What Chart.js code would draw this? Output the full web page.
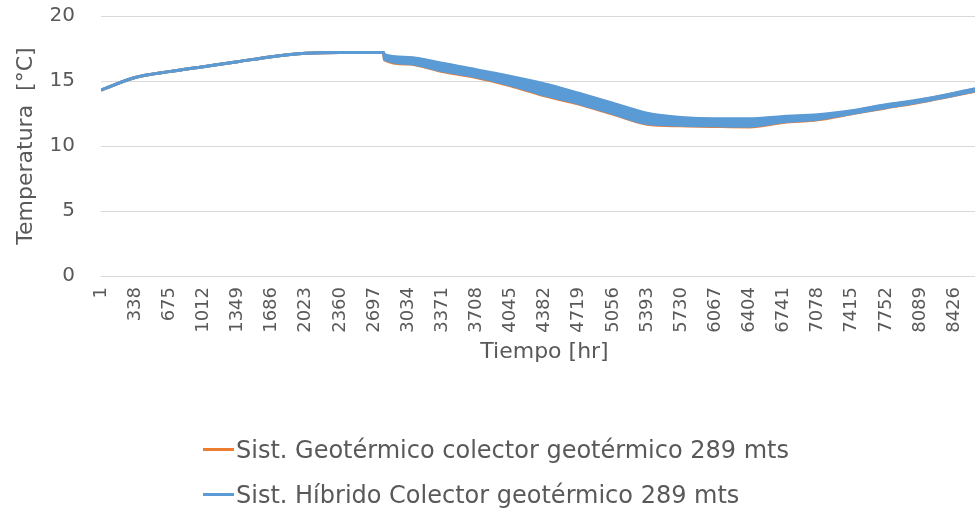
<!DOCTYPE html>
<html>
<head>
<meta charset="utf-8">
<script src="https://cdn.jsdelivr.net/npm/chart.js@4/dist/chart.umd.min.js"></script>
<style>
  html, body { margin: 0; padding: 0; background: #fff; overflow: hidden; }
  #wrap { position: relative; width: 996px; height: 514px; }
  #legend { position: absolute; left: 203px; top: 427px; font-family: 'DejaVu Sans', sans-serif; font-size: 24px; color: #595959; }
  .item { display: flex; align-items: center; height: 45px; white-space: nowrap; }
  .swatch { display: inline-block; width: 31px; height: 3px; margin-right: 2px; }
</style>
</head>
<body>
<div id="wrap">
  <canvas id="chart" width="996" height="514"></canvas>
  <div id="legend"></div>
</div>
<script>
// hour of the year for each reading
const hours = [1, 338, 675, 1012, 1349, 1686, 2023, 2360, 2697, 2790,
  2800, 3034, 3371, 3708, 4045, 4382, 4719, 5056, 5393, 5730,
  6067, 6404, 6741, 7078, 7415, 7752, 8089, 8426, 8610, 8760];

// geothermal system: daily upper / lower envelope (°C)
const geoHigh = [14.31, 15.27, 15.72, 16.10, 16.48, 16.87, 17.13, 17.20, 17.20, 17.20,
  16.97, 16.76, 16.32, 15.81, 15.30, 14.73, 14.01, 13.24, 12.47, 12.14,
  12.04, 12.04, 12.22, 12.35, 12.68, 13.14, 13.52, 14.03, 14.34, 14.52];
const geoLow = [14.31, 15.27, 15.72, 16.10, 16.48, 16.87, 17.13, 17.20, 17.20, 17.20,
  16.63, 16.30, 15.73, 15.27, 14.63, 13.86, 13.22, 12.45, 11.68, 11.55,
  11.50, 11.47, 11.81, 12.01, 12.47, 12.93, 13.37, 13.88, 14.18, 14.39];

// hybrid system
const hybHigh = [14.31, 15.27, 15.72, 16.10, 16.48, 16.87, 17.13, 17.20, 17.20, 17.20,
  17.02, 16.81, 16.37, 15.86, 15.35, 14.78, 14.06, 13.29, 12.52, 12.19,
  12.09, 12.09, 12.27, 12.40, 12.71, 13.17, 13.55, 14.06, 14.37, 14.55];
const hybLow = [14.31, 15.27, 15.72, 16.10, 16.48, 16.87, 17.13, 17.20, 17.20, 17.20,
  16.68, 16.35, 15.78, 15.32, 14.68, 13.91, 13.27, 12.50, 11.73, 11.60,
  11.55, 11.52, 11.86, 12.06, 12.50, 12.96, 13.40, 13.91, 14.21, 14.42];

const tickHours = [1, 338, 675, 1012, 1349, 1686, 2023, 2360, 2697, 3034, 3371, 3708, 4045,
  4382, 4719, 5056, 5393, 5730, 6067, 6404, 6741, 7078, 7415, 7752, 8089, 8426];

const FONT = 'DejaVu Sans';
const TEXT = '#595959';
const ORANGE = '#ED7D31';
const BLUE = '#5B9BD5';

function toPoints(values) {
  return hours.map((h, i) => ({ x: h, y: values[i] }));
}

// a series is drawn as its lower line plus its upper line filled down to it
function series(label, color, low, high, order) {
  const line = { borderColor: color, borderWidth: 3, pointRadius: 0, cubicInterpolationMode: 'monotone', order: order };
  return [
    Object.assign({ label: label, data: toPoints(low), fill: false }, line),
    Object.assign({ label: '', data: toPoints(high), fill: '-1', backgroundColor: color }, line)
  ];
}

const chart = new Chart(document.getElementById('chart').getContext('2d'), {
  type: 'line',
  data: {
    datasets: [
      ...series('Sist. Geotérmico colector geotérmico 289 mts', ORANGE, geoLow, geoHigh, 2),
      ...series('Sist. Híbrido Colector geotérmico 289 mts', BLUE, hybLow, hybHigh, 1)
    ]
  },
  options: {
    responsive: false,
    animation: false,
    devicePixelRatio: 1,
    layout: { padding: { top: 16, right: 8, bottom: 145, left: 0 } },
    plugins: { legend: { display: false }, tooltip: { enabled: false } },
    scales: {
      x: {
        type: 'linear',
        min: 0.5,
        max: 8760.5,
        afterBuildTicks: s => { s.ticks = tickHours.map(v => ({ value: v })); },
        afterFit: s => { s.height = 93; },
        grid: { display: false, drawTicks: false },
        border: { display: false },
        ticks: {
          autoSkip: false, minRotation: 90, maxRotation: 90, padding: 11,
          color: TEXT, font: { family: FONT, size: 18 },
          callback: v => String(v)
        },
        title: { display: true, text: 'Tiempo [hr]', color: TEXT, font: { family: FONT, size: 22 }, padding: { top: 4, bottom: 4 } }
      },
      y: {
        min: 0,
        max: 20,
        // fixed axis width; tick padding should not push the plot down
        afterFit: s => { s.width = 101; s.paddingTop = 0; s.paddingBottom = 0; },
        grid: { color: '#d9d9d9', drawTicks: false },
        border: { display: false },
        ticks: { stepSize: 5, padding: 26, color: TEXT, font: { family: FONT, size: 20 } },
        title: { display: true, text: 'Temperatura  [°C]', color: TEXT, font: { family: FONT, size: 22 }, padding: { top: 13, bottom: 0 } }
      }
    }
  }
});

// legend rows, one per labelled dataset, in dataset order
document.getElementById('legend').innerHTML = chart.data.datasets
  .filter(ds => ds.label)
  .map(ds => `<div class="item"><span class="swatch" style="background:${ds.borderColor}"></span><span>${ds.label}</span></div>`)
  .join('');
</script>
</body>
</html>
